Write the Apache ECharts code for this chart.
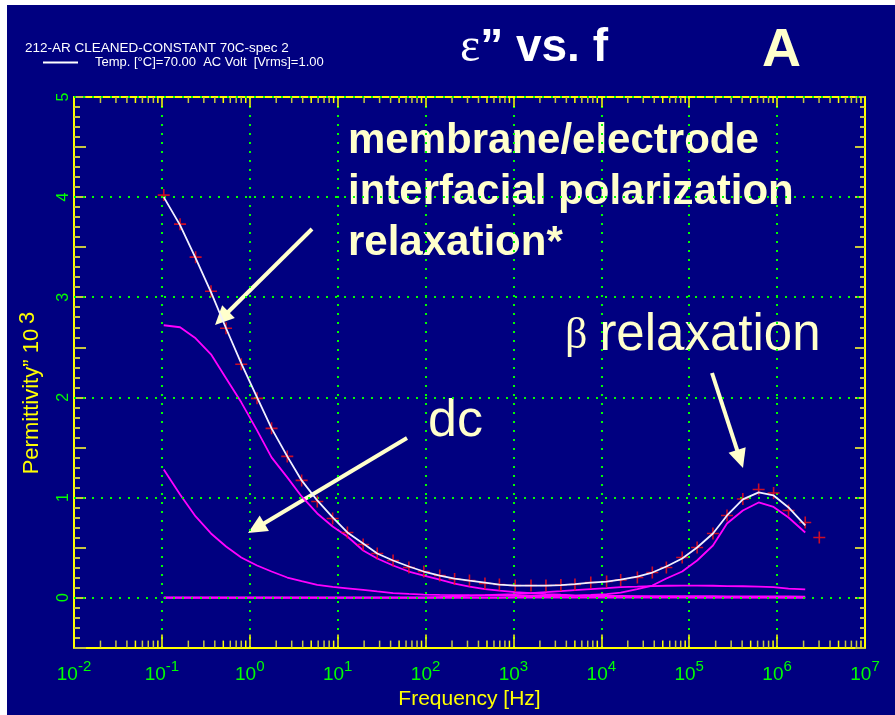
<!DOCTYPE html>
<html>
<head>
<meta charset="utf-8">
<script src="https://cdn.jsdelivr.net/npm/echarts@6/dist/echarts.min.js"></script>
<style>
  html, body { margin: 0; padding: 0; background: #fff; }
  #chart { width: 895px; height: 715px; }
</style>
</head>
<body>
<div id="chart"></div>
<script>
// frequencies [Hz] of the measured points
var freq = [0.105, 0.161, 0.242, 0.362, 0.537, 0.80, 1.21, 1.77, 2.67, 3.89, 5.86, 8.77,
  12.9, 19.5, 28.2, 42.7, 64.6, 95.5, 145, 214, 316, 474, 692, 1047, 1585, 2344, 3467,
  5012, 7586, 11480, 16600, 25700, 38020, 54950, 83180, 123000, 186200, 269200, 407400,
  616600, 912000, 1349000, 2089000, 3020000];

// measured permittivity'' (x 10^3), red crosses
var measured = [4.02, 3.73, 3.40, 3.06, 2.69, 2.33, 1.99, 1.69, 1.41, 1.17, 0.96, 0.79,
  0.65, 0.53, 0.44, 0.37, 0.30, 0.26, 0.22, 0.185, 0.17, 0.14, 0.13, 0.12, 0.12, 0.12, 0.125,
  0.13, 0.15, 0.16, 0.175, 0.20, 0.25, 0.30, 0.40, 0.50, 0.64, 0.82, 0.985, 1.08, 1.045,
  0.87, 0.75, 0.60];

// total fit (white line), first 43 frequencies
var fitTotal = [4.00, 3.72, 3.39, 3.05, 2.69, 2.34, 2.00, 1.69, 1.41, 1.17, 0.97, 0.80,
  0.65, 0.54, 0.44, 0.37, 0.31, 0.26, 0.22, 0.19, 0.17, 0.15, 0.13, 0.12, 0.12, 0.12, 0.125,
  0.135, 0.15, 0.16, 0.18, 0.21, 0.25, 0.31, 0.39, 0.50, 0.64, 0.82, 0.98, 1.05, 1.02,
  0.90, 0.72];

// fit components (magenta)
var electrode = [2.72, 2.70, 2.59, 2.43, 2.19, 1.95, 1.67, 1.40, 1.20, 1.01, 0.84, 0.71,
  0.61, 0.47, 0.39, 0.32, 0.26, 0.22, 0.18, 0.14, 0.11, 0.085, 0.07, 0.055, 0.045, 0.035,
  0.028, 0.022, 0.017, 0.013, 0.010, 0.008, 0.006, 0.005, 0.004, 0.003, 0.002, 0.002,
  0.001, 0.001, 0.001, 0, 0];
var dc = [1.28, 1.03, 0.81, 0.64, 0.51, 0.40, 0.32, 0.26, 0.20, 0.163, 0.127, 0.107,
  0.092, 0.076, 0.061, 0.045, 0.036, 0.030, 0.027, 0.025, 0.023, 0.022, 0.021, 0.020,
  0.019, 0.018, 0.018, 0.017, 0.017, 0.016, 0.016, 0.015, 0.015, 0.014, 0.014, 0.013,
  0.013, 0.012, 0.012, 0.012, 0.011, 0.011, 0.010];
var midRelax = [0, 0, 0, 0, 0, 0, 0, 0, 0, 0, 0, 0, 0, 0, 0, 0, 0, 0, 0.005, 0.01, 0.02,
  0.025, 0.03, 0.035, 0.045, 0.055, 0.065, 0.075, 0.085, 0.095, 0.105, 0.11, 0.115, 0.118,
  0.12, 0.12, 0.118, 0.115, 0.113, 0.11, 0.105, 0.09, 0.082];
var betaRelax = [0, 0, 0, 0, 0, 0, 0, 0, 0, 0, 0, 0, 0, 0, 0, 0, 0, 0, 0, 0, 0, 0, 0,
  0.005, 0.01, 0.013, 0.016, 0.02, 0.027, 0.035, 0.05, 0.085, 0.12, 0.19, 0.26, 0.37,
  0.52, 0.74, 0.87, 0.95, 0.905, 0.80, 0.65];
var baseline = [0, 0, 0, 0, 0, 0, 0, 0, 0, 0, 0, 0, 0, 0, 0, 0, 0, 0, 0, 0, 0, 0, 0, 0,
  0, 0, 0, 0, 0, 0, 0, 0, 0, 0, 0, 0, 0, 0, 0, 0, 0, 0, 0];

var yGridValues = [0, 1, 2, 3, 4, 5];
var decades = [-2, -1, 0, 1, 2, 3, 4, 5, 6];
var minorMultipliers = [2, 3, 4, 5, 6, 7, 8, 9];

var legendName = "Temp. [\u00B0C]=70.00  AC Volt  [Vrms]=1.00";
var sans = "'Liberation Sans', Arial, sans-serif";
var serif = "'Liberation Serif', 'Times New Roman', serif";
var yellow = "#ffff00";
var olive = "#c8c840";
var green = "#00ff00";
var cream = "#ffffcc";
var magenta = "#ff00ff";

function pairs(ys) {
  return ys.map(function (v, i) { return [freq[i], v]; });
}

// log-spaced minor ticks (2..9 x 10^n) for the frequency axis
var minorTicks = [];
decades.forEach(function (d) {
  minorMultipliers.forEach(function (m) {
    minorTicks.push([m * Math.pow(10, d), 0]);
  });
});

function arrow(x1, y1, x2, y2) {
  var dx = x2 - x1, dy = y2 - y1;
  var len = Math.sqrt(dx * dx + dy * dy);
  var ux = dx / len, uy = dy / len;
  var L = 19, W = 9;
  var bx = x2 - ux * L, by = y2 - uy * L;
  return {
    type: "group",
    children: [
      { type: "line", shape: { x1: x1, y1: y1, x2: bx + ux * 2, y2: by + uy * 2 },
        style: { stroke: cream, lineWidth: 4 } },
      { type: "polygon",
        shape: { points: [[x2, y2], [bx - uy * W, by + ux * W], [bx + uy * W, by - ux * W]] },
        style: { fill: cream } }
    ]
  };
}

var myChart = echarts.init(document.getElementById("chart"));

function magentaLine(name, ys, extra) {
  var s = {
    name: name,
    type: "line",
    data: pairs(ys),
    showSymbol: false,
    symbol: "none",
    color: magenta,
    lineStyle: { color: magenta, width: 1.8 },
    z: 4,
    silent: true
  };
  if (extra) { for (var k in extra) s[k] = extra[k]; }
  return s;
}

var option = {
  backgroundColor: "#000080",
  animation: false,
  grid: { left: 74, top: 97, right: 30, bottom: 63 },
  legend: {
    data: [legendName],
    left: 43,
    top: 56,
    padding: 0,
    icon: "rect",
    itemWidth: 35,
    itemHeight: 2,
    textStyle: { color: "#ffffff", fontSize: 13, fontFamily: sans, padding: [0, 0, 0, 12] }
  },
  xAxis: [
    {
      type: "log",
      logBase: 10,
      min: 0.01,
      max: 1e7,
      position: "bottom",
      axisLine: { show: true, onZero: false, lineStyle: { color: yellow, width: 2 } },
      axisTick: { show: true, inside: true, length: 13, lineStyle: { color: yellow, width: 1.5 } },
      minorTick: { show: false },
      splitLine: { show: true, lineStyle: { color: green, width: 2, type: [2, 7] } },
      axisLabel: {
        margin: 12,
        formatter: function (v) {
          return "{b|10}{e|" + Math.round(Math.log10(v)) + "}";
        },
        rich: {
          b: { fontSize: 19, color: green, fontFamily: sans, lineHeight: 30 },
          e: { fontSize: 15, color: green, fontFamily: sans, lineHeight: 15, verticalAlign: "top" }
        }
      },
      name: "Frequency [Hz]",
      nameLocation: "middle",
      nameGap: 38,
      nameTextStyle: { color: yellow, fontSize: 21, fontFamily: sans }
    },
    {
      type: "log",
      logBase: 10,
      min: 0.01,
      max: 1e7,
      position: "top",
      axisLine: { show: true, onZero: false, lineStyle: { color: yellow, width: 2 } },
      axisTick: { show: true, inside: true, length: 10, lineStyle: { color: yellow, width: 1.5 } },
      minorTick: { show: false },
      splitLine: { show: false },
      axisLabel: { show: false }
    }
  ],
  yAxis: [
    {
      type: "value",
      min: -0.5,
      max: 5,
      interval: 0.5,
      position: "left",
      axisLine: { show: true, onZero: false, lineStyle: { color: yellow, width: 2 } },
      axisTick: { show: true, inside: true, length: 12, lineStyle: { color: olive, width: 2 } },
      minorTick: { show: true, splitNumber: 5, length: 6, lineStyle: { color: olive, width: 2 } },
      splitLine: { show: false },
      axisLabel: {
        rotate: 90,
        margin: 2,
        color: green,
        fontSize: 16,
        fontFamily: sans,
        formatter: function (v) {
          return Math.abs(v - Math.round(v)) < 1e-6 ? String(Math.round(v)) : "";
        }
      }
    },
    {
      type: "value",
      min: -0.5,
      max: 5,
      interval: 0.5,
      position: "right",
      axisLine: { show: true, onZero: false, lineStyle: { color: yellow, width: 2 } },
      axisTick: { show: true, inside: true, length: 10, lineStyle: { color: olive, width: 2 } },
      minorTick: { show: true, splitNumber: 5, length: 5, lineStyle: { color: olive, width: 2 } },
      splitLine: { show: false },
      axisLabel: { show: false }
    }
  ],
  series: [
    {
      name: "minorTicks",
      type: "custom",
      data: minorTicks,
      silent: true,
      z: 1,
      clip: false,
      renderItem: function (params, api) {
        var p = api.coord([api.value(0), 0]);
        var r = params.coordSys;
        var i = params.dataIndex % 8;
        var c = (i === 3 || i === 7) ? yellow : olive;
        return {
          type: "group",
          children: [
            { type: "line", shape: { x1: p[0], y1: r.y + r.height, x2: p[0], y2: r.y + r.height - 7 },
              style: { stroke: c, lineWidth: 1.5 } },
            { type: "line", shape: { x1: p[0], y1: r.y, x2: p[0], y2: r.y + 6 },
              style: { stroke: c, lineWidth: 1.5 } }
          ]
        };
      }
    },
    magentaLine("baseline", baseline, {
      markLine: {
        silent: true,
        symbol: "none",
        label: { show: false },
        lineStyle: { color: green, width: 2, type: [2, 7] },
        data: yGridValues.map(function (v) { return { yAxis: v }; })
      },
      z: 2
    }),
    magentaLine("dc", dc),
    magentaLine("electrode", electrode),
    magentaLine("mid", midRelax),
    magentaLine("beta", betaRelax),
    {
      name: "measured",
      type: "scatter",
      data: pairs(measured),
      symbol: "path://M0,5.2H12V6.8H0Z M5.2,0H6.8V12H5.2Z",
      symbolSize: 12,
      itemStyle: { color: "#ff1010" },
      z: 5,
      silent: true
    },
    {
      name: legendName,
      type: "line",
      data: pairs(fitTotal),
      showSymbol: false,
      symbol: "none",
      color: "#ffffff",
      lineStyle: { color: "#f0f0ff", width: 1.8 },
      z: 6,
      silent: true
    }
  ],
  graphic: [
    { type: "rect", shape: { x: 0, y: 0, width: 895, height: 5 }, style: { fill: "#ffffff" }, z: 100 },
    { type: "rect", shape: { x: 0, y: 0, width: 7, height: 715 }, style: { fill: "#ffffff" }, z: 100 },
    { type: "text", x: 25, y: 48,
      style: { text: "212-AR CLEANED-CONSTANT 70C-spec 2", fill: "#ffffff", font: "13.5px " + sans, verticalAlign: "middle" } },
    { type: "text", x: 32, y: 393, rotation: Math.PI / 2,
      style: {
        text: "{a|Permittivity\u201D 10}{s|3}",
        align: "center",
        verticalAlign: "middle",
        rich: {
          a: { fill: yellow, font: "22px " + sans, lineHeight: 30 },
          s: { fill: yellow, font: "22px " + sans, lineHeight: 22, verticalAlign: "top", padding: [0, 0, 0, 5] }
        }
      } },
    { type: "text", x: 460, y: 48,
      style: {
        text: "{e|\u03B5}{t|\u201D vs. f}",
        verticalAlign: "middle",
        rich: {
          e: { fill: "#ffffff", font: "normal 48px " + serif },
          t: { fill: "#ffffff", font: "bold 46px " + sans }
        }
      } },
    { type: "text", x: 762, y: 51,
      style: { text: "A", fill: cream, font: "bold 54px " + sans, verticalAlign: "middle" } },
    { type: "text", x: 348, y: 141,
      style: { text: "membrane/electrode", fill: cream, font: "bold 42px " + sans, verticalAlign: "middle" } },
    { type: "text", x: 348, y: 192,
      style: { text: "interfacial polarization", fill: cream, font: "bold 42px " + sans, verticalAlign: "middle" } },
    { type: "text", x: 348, y: 243,
      style: { text: "relaxation*", fill: cream, font: "bold 42px " + sans, verticalAlign: "middle" } },
    { type: "text", x: 565, y: 336,
      style: {
        text: "{b|\u03B2}{r|relaxation}",
        verticalAlign: "middle",
        rich: {
          b: { fill: cream, font: "normal 44px " + serif },
          r: { fill: cream, font: "normal 51px " + sans, padding: [0, 0, 0, 12] }
        }
      } },
    { type: "text", x: 428, y: 422,
      style: { text: "dc", fill: cream, font: "normal 52px " + sans, verticalAlign: "middle" } },
    arrow(312, 229, 215, 325),
    arrow(407, 438, 248, 533),
    arrow(712, 373, 743, 468)
  ]
};

myChart.setOption(option);

window.addEventListener("resize", function () {
  myChart.resize();
});
</script>
</body>
</html>
